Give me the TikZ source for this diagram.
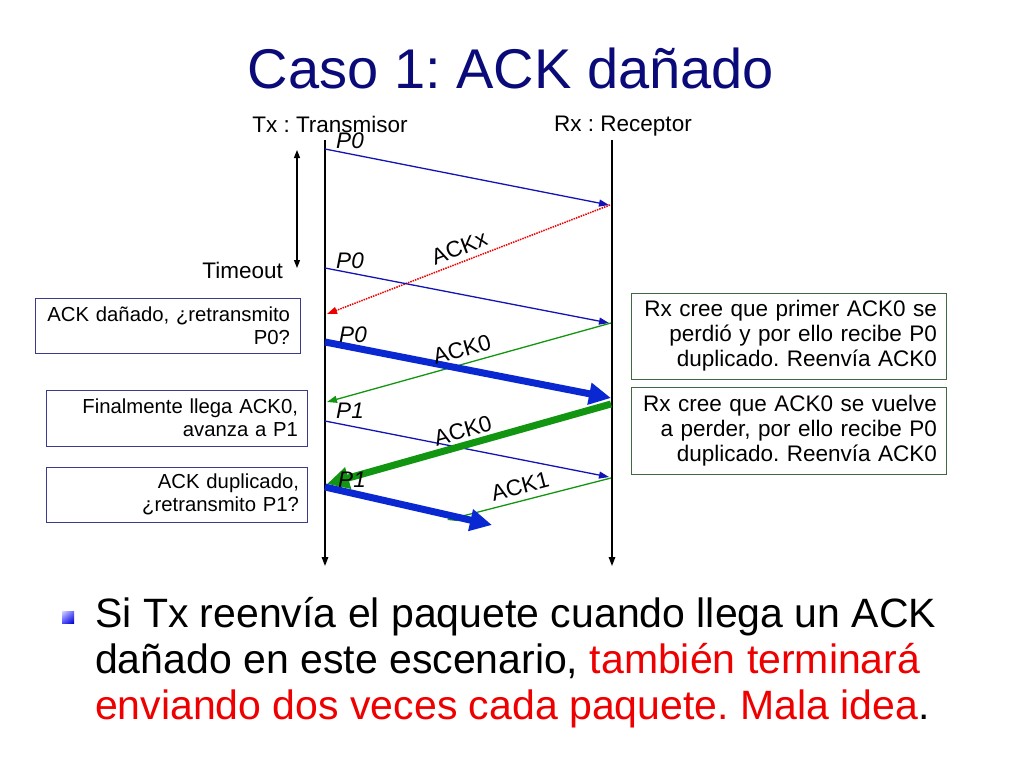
\documentclass[tikz,border=0pt]{standalone}
\usepackage{fontspec}
\setmainfont{Liberation Sans}
\usetikzlibrary{arrows.meta,shadings}
\definecolor{navy}{HTML}{0A0A78}
\definecolor{msgblue}{HTML}{1414B4}
\definecolor{thickblue}{HTML}{0A28D2}
\definecolor{msggreen}{HTML}{129612}
\definecolor{boxblue}{HTML}{3A3A90}
\definecolor{boxgreen}{HTML}{3F6A3F}
\definecolor{txtred}{HTML}{EE0000}
\frenchspacing
\begin{document}
\begin{tikzpicture}[x=1pt,y=-1pt,
  hdr/.style={inner sep=0pt,font=\fontsize{22.5}{26}\selectfont},
  plbl/.style={inner sep=0pt,font=\fontsize{22.5}{26}\selectfont\itshape},
  albl/.style={inner sep=0pt,font=\fontsize{22.5}{26}\selectfont,anchor=base},
  lifeline/.style={line width=1.4pt,-{Triangle[length=9pt,width=6.5pt]}},
  thinblue/.style={draw=msgblue,line width=1.3pt,-{Triangle[length=10pt,width=7pt]}},
  thingreen/.style={draw=msggreen,line width=1.3pt,-{Triangle[length=10pt,width=7pt]}},
  thickb/.style={draw=thickblue,line width=7pt,-{Triangle[length=22pt,width=21pt]}},
  thickg/.style={draw=msggreen,line width=7pt,-{Triangle[length=22pt,width=21pt]}},
  reddot/.style={draw=txtred,line width=1.5pt,densely dotted,-{Triangle[length=10pt,width=7pt]}},
  lbox/.style={draw=boxblue,line width=1pt,inner sep=0pt,align=right,font=\fontsize{20.3}{23}\selectfont},
  rbox/.style={draw=boxgreen,line width=1pt,inner sep=0pt,align=right,font=\fontsize{22.5}{25}\selectfont},
  body/.style={inner sep=0pt,anchor=base west,font=\fontsize{41}{46}\selectfont}]
\useasboundingbox (0,0) rectangle (1024,768);

% title and headers
\node[inner sep=0pt,anchor=base,text=navy,font=\fontsize{56}{60}\selectfont] (title) at (511,88) {Caso 1: ACK dañado};
\node[hdr,anchor=base] (tx) at (330,132) {Tx : Transmisor};
\node[hdr,anchor=base] (rx) at (623,131) {Rx : Receptor};
\node[hdr,anchor=base east] (timeout) at (283,278) {Timeout};

% lifelines
\coordinate (txtop) at (325,140);
\coordinate (txbot) at (325,566);
\coordinate (rxtop) at (612,140);
\coordinate (rxbot) at (612,566);
\draw[lifeline] (txtop) -- (txbot);
\draw[lifeline] (rxtop) -- (rxbot);

% timeout
\coordinate (toa) at (297,150);
\coordinate (tob) at (297,268);
\draw[line width=1.3pt,{Triangle[length=8pt,width=6pt]}-{Triangle[length=8pt,width=6pt]}] (toa) -- (tob);

% message coordinates
\coordinate (s1) at (325,149);  \coordinate (e1) at (609,205);
\coordinate (s2) at (610,205);  \coordinate (e2) at (327,314);
\coordinate (s3) at (325,268);  \coordinate (e3) at (609,323);
\coordinate (s4) at (611,323);  \coordinate (e4) at (327,402);
\coordinate (s5) at (325,342);  \coordinate (e5) at (611,398);
\coordinate (s6) at (325,421);  \coordinate (e6) at (609,477);
\coordinate (s7) at (611,404);  \coordinate (e7) at (327,484);
\coordinate (s8) at (325,487);  \coordinate (e8) at (492,525);
\coordinate (s9) at (611,478);  \coordinate (e9) at (447,520);

\draw[thinblue] (s1) -- (e1);
\draw[reddot] (s2) -- (e2);
\draw[thinblue] (s3) -- (e3);
\draw[thingreen] (s4) -- (e4);
\draw[thickb] (s5) -- (e5);
\draw[thinblue] (s6) -- (e6);
\draw[thickg] (s7) -- (e7);
\draw[thingreen] (s9) -- (e9);
\draw[thickb] (s8) -- (e8);

% labels
\node[plbl] (lp1) at (350,141) {P0};
\node[albl,rotate=21] (lackx) at (462,255) {ACKx};
\node[plbl] (lp2) at (350,261) {P0};
\node[plbl] (lp3) at (353,335) {P0};
\node[albl,rotate=15.6] (lack1) at (464,357) {ACK0};
\node[plbl] (lp4) at (350,411) {P1};
\node[albl,rotate=15.8] (lack2) at (465,438) {ACK0};
\node[plbl] (lp5) at (352,480) {P1};
\node[albl,rotate=14.7] (lack3) at (522,494) {ACK1};

% boxes
\node[lbox,minimum width=265pt,minimum height=55pt,text width=245pt] (b1) at (167.5,325.5) {ACK dañado, ¿retransmito\\P0?};
\node[lbox,minimum width=261pt,minimum height=56pt,text width=243pt] (b2) at (176.5,418) {Finalmente llega ACK0,\\avanza a P1};
\node[lbox,minimum width=261pt,minimum height=55pt,text width=245pt] (b3) at (176.5,494.5) {ACK duplicado,\\¿retransmito P1?};
\node[rbox,minimum width=315pt,minimum height=86pt,text width=297pt] (b4) at (788.5,336) {Rx cree que primer ACK0 se\\perdió y por ello recibe P0\\duplicado. Reenvía ACK0};
\node[rbox,minimum width=315pt,minimum height=87pt,text width=297pt] (b5) at (788.5,430.5) {Rx cree que ACK0 se vuelve\\a perder, por ello recibe P0\\duplicado. Reenvía ACK0};

% bullet
\shade[upper left=blue!15!white,upper right=blue!60,lower left=blue!70,lower right=blue!80!black] (62,611) rectangle (74,623);

% body text
\node[body] (l1) at (95,627) {Si Tx reenvía el paquete cuando llega un ACK};
\node[body] (l2) at (95,673) {dañado en este escenario, \textcolor{txtred}{también terminará}};
\node[body] (l3) at (95,719) {\textcolor{txtred}{enviando dos veces cada paquete. Mala idea}.};
\end{tikzpicture}
\end{document}
